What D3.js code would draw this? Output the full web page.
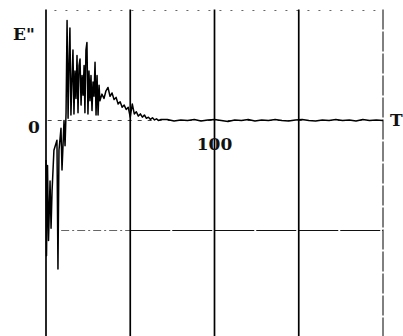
<!DOCTYPE html>
<html>
<head>
<meta charset="utf-8">
<script src="https://cdn.jsdelivr.net/npm/d3@7"></script>
<style>
  body { margin: 0; background: #fff; }
  text { font-family: "DejaVu Serif", "Liberation Serif", serif; font-weight: bold; fill: #111; }
</style>
</head>
<body>
<div id="main"></div>
<script>
var width = 403,
    height = 336;

// T axis grid and labels
var gridT = [0, 50, 100, 150, 200];
var gridE = [1, 0, -1];

// E'' trace
var tVals = [0, 0.3, 0.9, 1.5, 2.4, 3.0, 3.6, 4.7, 6.5, 7.1, 7.7, 8.9, 9.5, 10.7, 11.3, 11.9,
    12.5, 13.1, 13.7, 14.2, 14.8, 15.4, 16.0, 16.6, 17.2, 17.8, 18.4, 19.0, 19.6, 20.2,
    20.8, 21.4, 22.0, 22.6, 23.1, 23.7, 24.3, 24.9, 25.5, 26.1, 26.7, 27.3, 27.9, 28.5,
    29.1, 29.7, 30.3, 30.9, 31.5,
    32.0, 33.2, 34.4, 35.6, 36.8, 38.0, 39.2, 40.4, 41.6, 42.8, 44.0, 45.2, 46.4, 47.6,
    48.8, 50.0, 51.2, 52.4, 53.6, 54.8, 56.0, 57.2, 58.4, 59.6, 60.8, 62.0, 63.2, 64.4,
    65.6, 66.8, 68.0,
    72, 76, 80, 84, 88, 92, 96, 100, 104, 108, 112, 116,
    120, 124, 128, 132, 136, 140, 144, 148, 152, 156, 160, 164, 168, 172, 176, 180, 184,
    188, 192, 196, 200];
var eVals = [-0.36, -1.23, -0.41, -1.09, -0.55, -0.98, -0.64, -0.27, -0.18, -1.35, -0.27,
    -0.07, -0.45, 0, -0.23, 0.07, 0.91, 0.02, 0.55, 0.84, 0.05, 0.36, 0.64, 0.06, 0.45,
    0.20, 0.59, 0.07, 0.50, 0.56, 0.14, 0.41, 0.23, 0.50, 0.07, 0.64, 0.71, 0.06, 0.45,
    0.18, 0.41, 0.09, 0.35, 0.22, 0.53, 0.05, 0.41, 0.05, 0.32,
    0.18, 0.24, 0.20, 0.27, 0.30, 0.22, 0.25, 0.19, 0.21, 0.15, 0.17, 0.12, 0.14, 0.10,
    0.12, 0.03, 0.15, 0.06, 0.08, 0.04, 0.06, 0.03, 0.05, 0.02, 0.03, 0.01, 0.025, 0.005,
    0.015, 0, 0.008,
    0.01, -0.005, 0.005, 0,
    0.01, -0.005, 0.005, 0.01, 0, -0.01, 0.005, 0, 0.01, -0.005, 0.005, 0, 0.01, 0,
    -0.005, 0.005, 0.01, 0, -0.005, 0.005, 0, 0.01, 0, 0.005, -0.005, 0.01, 0, 0.005, 0];

var x = d3.scaleLinear().domain([0, 200]).range([46, 383]);
var y = d3.scaleLinear().domain([1, -1]).range([10.5, 230.5]);

var svg = d3.select("#main").append("svg")
    .attr("width", width)
    .attr("height", height);

// horizontal guide lines
svg.append("line")
    .attr("x1", x(5)).attr("x2", x(199))
    .attr("y1", y(1)).attr("y2", y(1))
    .attr("stroke", "#666").attr("stroke-width", 1)
    .attr("stroke-dasharray", "2,9");
svg.append("line")
    .attr("x1", x(1)).attr("x2", x(200))
    .attr("y1", y(0)).attr("y2", y(0))
    .attr("stroke", "#444").attr("stroke-width", 1)
    .attr("stroke-dasharray", "4,6");
svg.append("line")
    .attr("x1", x(9)).attr("x2", x(50))
    .attr("y1", y(-1)).attr("y2", y(-1))
    .attr("stroke", "#666").attr("stroke-width", 1)
    .attr("stroke-dasharray", "8,3,2,3");
svg.append("line")
    .attr("x1", x(50)).attr("x2", x(200))
    .attr("y1", y(-1)).attr("y2", y(-1))
    .attr("stroke", "#111").attr("stroke-width", 1)
    .attr("stroke-dasharray", "40,2");

// vertical grid lines
svg.selectAll(".vgrid")
    .data(gridT)
    .enter().append("line")
    .attr("class", "vgrid")
    .attr("x1", function(d){ return x(d); })
    .attr("x2", function(d){ return x(d); })
    .attr("y1", y(1) - 1)
    .attr("y2", height)
    .attr("stroke", "#000")
    .attr("stroke-width", function(d){ return d == 200 ? 1 : 1.7; })
    .attr("stroke-dasharray", function(d){ return d == 200 ? "20,2" : null; });

// trace
var pts = tVals.map(function(t, i){ return [t, eVals[i]]; });
var line = d3.line()
    .x(function(d){ return x(d[0]); })
    .y(function(d){ return y(d[1]); });
svg.append("path")
    .datum(pts)
    .attr("d", line)
    .attr("fill", "none")
    .attr("stroke", "#000")
    .attr("stroke-width", 1.5)
    .attr("stroke-linejoin", "round");

// labels
svg.append("text").attr("x", 13).attr("y", 40).style("font-size", "17px").text("E\"");
svg.append("text").attr("x", 28).attr("y", 133).style("font-size", "17px").text("0");
svg.append("text").attr("x", 390).attr("y", 126).style("font-size", "17px").text("T");
svg.append("text").attr("x", x(100)).attr("y", 150)
    .attr("text-anchor", "middle")
    .style("font-size", "17px").text("100");
</script>
</body>
</html>
